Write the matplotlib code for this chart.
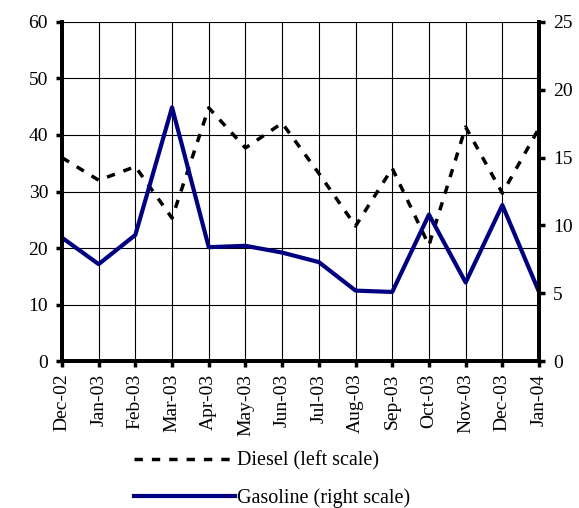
import numpy as np
import matplotlib.pyplot as plt

months = ['Dec-02', 'Jan-03', 'Feb-03', 'Mar-03', 'Apr-03', 'May-03', 'Jun-03',
          'Jul-03', 'Aug-03', 'Sep-03', 'Oct-03', 'Nov-03', 'Dec-03', 'Jan-04']
diesel = [36.0, 32.0, 34.4, 25.3, 44.8, 37.7, 42.1, 33.2, 23.9, 34.1, 20.5, 41.4, 29.7, 41.2]
gasoline = [9.1, 7.15, 9.3, 18.7, 8.4, 8.5, 8.0, 7.3, 5.2, 5.1, 10.8, 5.8, 11.5, 5.1]

plt.rcParams['font.family'] = ['Liberation Serif', 'DejaVu Serif']
plt.rcParams['font.size'] = 14

fig = plt.figure(figsize=(5.79, 5.08), dpi=100)
ax = fig.add_axes([0.107, 0.289, 0.824, 0.668])
x = np.arange(len(months))

ld, = ax.plot(x, diesel, color='black', lw=2.5, dashes=(2.4, 2.6), label='Diesel (left scale)')
ax.set_ylim(0, 60)
ax.set_yticks(range(0, 61, 10))
ax.set_xlim(0, len(months) - 1)
ax.set_xticks(x)
ax.set_xticklabels(months, rotation=90)
ax.grid(True, color='black', lw=0.8)
ax.set_axisbelow(True)

ax2 = ax.twinx()
lg, = ax2.plot(x, gasoline, color='#000080', lw=3, label='Gasoline (right scale)')
ax2.set_ylim(0, 25)
ax2.set_yticks(range(0, 26, 5))

for a in (ax, ax2):
    a.spines['top'].set_visible(False)
    a.spines['left'].set_linewidth(2.8)
    a.spines['right'].set_linewidth(2.8)
    a.spines['bottom'].set_linewidth(2.8)
    a.tick_params(width=2.5, length=4, direction='out', pad=6)
ax.tick_params(axis='x', pad=5)

fig.legend(handles=[ld, lg], loc='upper left', bbox_to_anchor=(0.214, 0.131),
           frameon=False, handlelength=5.0, handletextpad=0.1, fontsize=14.5,
           labelspacing=0.88, borderpad=0)

fig.savefig('out.png', dpi=100)
